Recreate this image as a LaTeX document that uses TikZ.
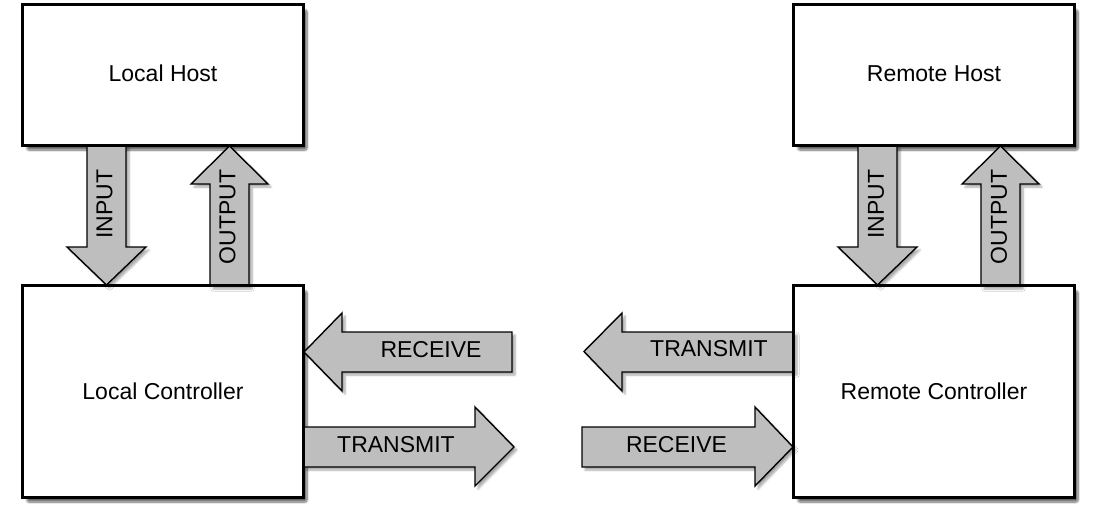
\documentclass[tikz,border=0pt]{standalone}
\usepackage{fontspec}
\setmainfont{Liberation Sans}
\usetikzlibrary{shadows.blur}
\definecolor{arrowgray}{HTML}{BEBEBE}
\tikzset{
  box/.style={draw=black, line width=2pt, fill=white, minimum width=280pt, minimum height=#1, inner sep=0pt,
    blur shadow={shadow xshift=4pt, shadow yshift=-5pt, shadow blur steps=10, shadow blur extra rounding=2pt, shadow opacity=60}},
  box/.default=140pt,
  blockarrow/.style={draw=black, line width=1.4pt, fill=arrowgray, line join=miter,
    blur shadow={shadow xshift=3pt, shadow yshift=-3pt, shadow blur steps=6, shadow opacity=35}},
  lbl/.style={font=\fontsize{23}{26}\selectfont, inner sep=0pt}
}
\begin{document}
\begin{tikzpicture}[x=1pt, y=-1pt]
\useasboundingbox (0,0) rectangle (1098,519);
% boxes
\node[box] (lh) at (163,75) {};
\node[box] (rh) at (934,75) {};
\node[box=211pt] (lc) at (163,391.5) {};
\node[box=211pt] (rc) at (934,391.5) {};
\node[lbl] (lht) at (163,73.5) {Local Host};
\node[lbl] (rht) at (934,73.5) {Remote Host};
\node[lbl] (lct) at (lc.center) {Local Controller};
\node[lbl] (rct) at (rc.center) {Remote Controller};
% vertical arrows, left
\draw[blockarrow] (87,145) -- (126,145) -- (126,247) -- (146,247) -- (106.5,285) -- (67,247) -- (87,247) -- cycle;
\draw[blockarrow] (210,286) -- (249,286) -- (249,184) -- (268,184) -- (229.5,146) -- (191,184) -- (210,184) -- cycle;
% vertical arrows, right
\draw[blockarrow] (858,145) -- (897,145) -- (897,247) -- (917,247) -- (877.5,285) -- (838,247) -- (858,247) -- cycle;
\draw[blockarrow] (981,286) -- (1020,286) -- (1020,184) -- (1039,184) -- (1000.5,146) -- (962,184) -- (981,184) -- cycle;
% horizontal arrows, left
\draw[blockarrow] (512,332) -- (512,372) -- (342,372) -- (342,391) -- (304,352) -- (342,313) -- (342,332) -- cycle;
\draw[blockarrow] (303,427) -- (475,427) -- (475,407) -- (514,447) -- (475,486) -- (475,467) -- (303,467) -- cycle;
% horizontal arrows, right
\draw[blockarrow] (794,332) -- (794,372) -- (622,372) -- (622,391) -- (584,351.5) -- (622,313) -- (622,332) -- cycle;
\draw[blockarrow] (582,427) -- (755,427) -- (755,407) -- (793,447) -- (755,486) -- (755,467) -- (582,467) -- cycle;
% redraw box borders over arrow ends
\draw[line width=2pt] (lh.south west) rectangle (lh.north east);
\draw[line width=2pt] (rh.south west) rectangle (rh.north east);
\draw[line width=2pt] (lc.south west) rectangle (lc.north east);
\draw[line width=2pt] (rc.south west) rectangle (rc.north east);
% arrow labels
\node[lbl, rotate=90] (lin) at (104.5,204) {INPUT};
\node[lbl, rotate=90] (lout) at (227.5,217) {OUTPUT};
\node[lbl, rotate=90] (rin) at (876,204) {INPUT};
\node[lbl, rotate=90] (rout) at (999,217) {OUTPUT};
\node[lbl] (lrx) at (431,350) {RECEIVE};
\node[lbl] (ltx) at (396,445) {TRANSMIT};
\node[lbl] (rtx) at (709,349) {TRANSMIT};
\node[lbl] (rrx) at (676.5,445) {RECEIVE};
\end{tikzpicture}
\end{document}
